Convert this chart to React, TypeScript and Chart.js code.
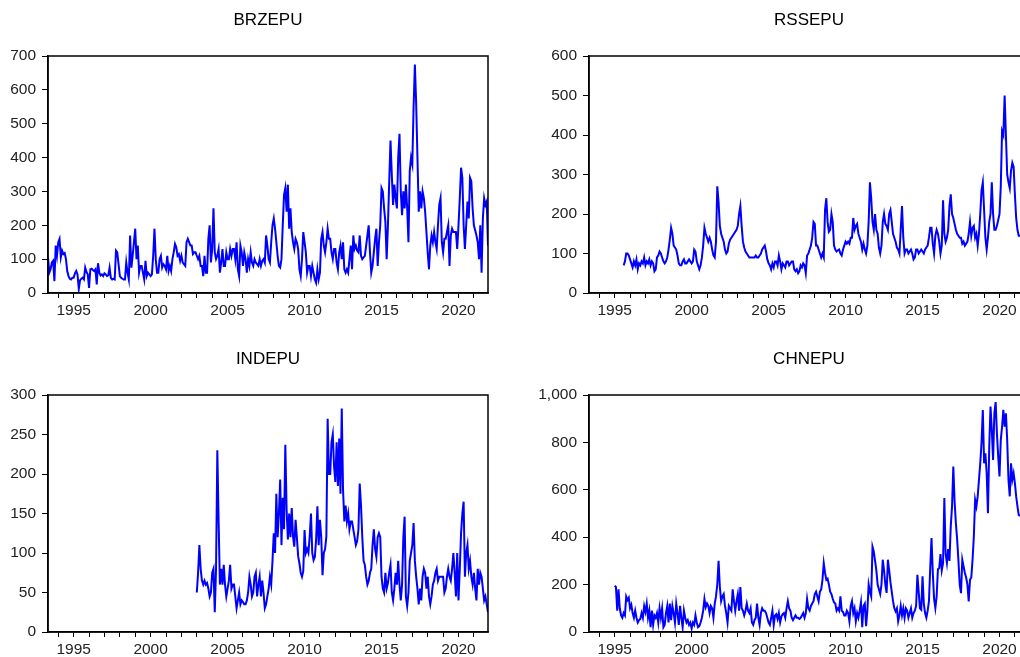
import React, { useEffect, useRef } from "react";
import { Chart, registerables } from "chart.js";

Chart.register(...registerables);

// Shared monthly time axis: May 1993 through December 2021
const AXIS_START = 1993 + 4 / 12;
const AXIS_END = 2021 + 11 / 12;
const tickYears = [
  1994, 1995, 1996, 1997, 1998, 1999, 2000, 2001, 2002, 2003, 2004, 2005, 2006, 2007,
  2008, 2009, 2010, 2011, 2012, 2013, 2014, 2015, 2016, 2017, 2018, 2019, 2020, 2021,
];
const labelYears = [1995, 2000, 2005, 2010, 2015, 2020];

// Brazil EPU, monthly from 1993-05
const brzStart = [1993, 5];
const brzepu = [
  105, 60, 70, 90, 95, 35, 140, 110,
  150, 160, 105, 125, 115, 118, 100, 65, 50, 42, 40, 45,
  45, 58, 65, 55, 12, 38, 42, 45, 40, 75, 62, 55,
  15, 70, 72, 68, 65, 70, 25, 88, 60, 52, 55, 50,
  58, 55, 50, 52, 75, 45, 40, 42, 40, 125, 120, 85,
  50, 45, 42, 40, 40, 90, 60, 40, 170, 75, 110, 150,
  190, 100, 140, 60, 80, 80, 60, 40, 95, 50, 60, 55,
  50, 55, 110, 190, 100, 60, 60, 100, 110, 75, 85, 80,
  70, 110, 65, 80, 65, 100, 120, 145, 135, 110, 115, 95,
  110, 90, 85, 80, 150, 160, 150, 140, 140, 115, 120, 120,
  110, 100, 110, 80, 80, 50, 110, 60, 60, 160, 200, 90,
  130, 250, 120, 100, 110, 130, 60, 90, 130, 80, 80, 120,
  100, 100, 130, 110, 130, 130, 100, 150, 70, 50, 140, 120,
  80, 120, 100, 60, 100, 80, 120, 90, 80, 100, 90, 85,
  80, 100, 80, 95, 100, 90, 170, 140, 100, 90, 150, 200,
  220, 190, 150, 110, 80, 75, 100, 200, 290, 310, 240, 320,
  190, 250, 180, 150, 130, 160, 150, 130, 70, 50, 100, 180,
  150, 120, 60, 80, 80, 50, 80, 60, 40, 30, 70, 40,
  60, 160, 180, 140, 120, 150, 190, 160, 160, 120, 100, 130,
  130, 90, 70, 120, 140, 100, 150, 70, 60, 70, 60, 100,
  140, 70, 170, 130, 140, 125, 120, 170, 110, 100, 105, 110,
  140, 170, 200, 120, 60, 80, 120, 160, 190, 80, 150, 200,
  310, 300, 250, 210, 100, 200, 330, 450, 350, 260, 320, 280,
  250, 400, 470, 300, 230, 300, 250, 320, 250, 150, 360, 400,
  380, 550, 675, 560, 400, 240, 300, 250, 300, 280, 240, 180,
  120, 70, 140, 170, 150, 180, 150, 130, 200, 260, 280, 150,
  120, 160, 160, 180, 200, 80, 170, 190, 180, 180, 180, 130,
  200, 280, 370, 340, 200, 130, 200, 270, 220, 340, 330, 250,
  200, 185, 170, 150, 100, 200, 60, 220, 280, 260, 270, 140,
];

// Russia EPU, monthly from 1995-08
const rssStart = [1995, 8];
const rssepu = [
  70, 80, 100, 100, 95,
  85, 75, 65, 80, 70, 85, 60, 75, 70, 80, 75, 90,
  70, 80, 75, 85, 70, 80, 75, 55, 60, 90, 95, 105,
  100, 90, 80, 75, 80, 90, 110, 135, 165, 150, 120, 115,
  110, 95, 75, 70, 70, 80, 85, 75, 75, 80, 85, 80,
  75, 80, 110, 105, 80, 70, 60, 70, 90, 120, 165, 150,
  140, 130, 140, 130, 110, 95, 90, 130, 270, 230, 170, 150,
  140, 130, 110, 100, 105, 125, 135, 140, 145, 150, 155, 160,
  170, 200, 220, 170, 130, 115, 105, 100, 95, 90, 90, 90,
  90, 90, 95, 90, 90, 95, 100, 110, 115, 120, 105, 85,
  75, 70, 60, 75, 65, 80, 80, 70, 95, 80, 60, 75,
  70, 65, 80, 80, 70, 75, 80, 80, 60, 55, 60, 50,
  55, 70, 65, 75, 70, 50, 95, 100, 110, 120, 140, 180,
  175, 120, 120, 110, 100, 90, 100, 90, 210, 240, 180, 155,
  160, 200, 180, 120, 110, 105, 108, 110, 100, 95, 110, 120,
  130, 125, 130, 125, 140, 140, 190, 160, 170, 175, 150, 140,
  130, 110, 125, 110, 100, 120, 180, 280, 240, 180, 160, 200,
  160, 150, 115, 100, 120, 180, 200, 175, 170, 160, 200, 210,
  180, 150, 140, 130, 115, 110, 100, 160, 220, 140, 100, 110,
  110, 100, 105, 110, 100, 85, 90, 110, 110, 100, 105, 110,
  105, 100, 110, 115, 120, 140, 165, 165, 125, 100, 145, 160,
  150, 130, 100, 120, 235, 150, 130, 140, 160, 220, 250, 200,
  190, 175, 160, 150, 145, 140, 140, 125, 130, 120, 125, 130,
  150, 180, 145, 165, 170, 140, 150, 120, 150, 200, 260, 280,
  210, 140, 110, 140, 180, 200, 280, 200, 160, 160, 170, 185,
  200, 270, 410, 400, 500, 400, 300, 280, 265, 310, 330, 320,
  250, 190, 160, 145, 145,
];

// India EPU, monthly from 2003-01
const indStart = [2003, 1];
const indepu = [
  50, 75, 110, 80, 65, 60, 65, 60, 62, 55, 45, 50,
  75, 80, 25, 80, 230, 140, 60, 80, 60, 85, 60, 45,
  55, 65, 85, 55, 60, 60, 45, 30, 40, 50, 35, 40,
  38, 35, 35, 40, 50, 70, 60, 45, 50, 70, 75, 45,
  60, 70, 45, 65, 50, 30, 35, 45, 55, 70, 60, 90,
  125, 100, 175, 120, 150, 193, 110, 170, 130, 237, 155, 117,
  150, 120, 157, 121, 108, 142, 120, 96, 87, 75, 70, 77,
  129, 100, 105, 100, 121, 150, 100, 91, 95, 117, 159, 110,
  142, 120, 72, 100, 105, 121, 270, 200, 200, 240, 250, 210,
  190, 240, 185, 245, 175, 283, 180, 140, 160, 140, 150, 130,
  140, 140, 130, 120, 110, 115, 130, 188, 160, 120, 90, 85,
  70, 60, 65, 75, 80, 110, 130, 105, 95, 120, 125, 120,
  70, 55, 50, 75, 55, 62, 75, 85, 50, 40, 55, 75,
  60, 90, 60, 40, 60, 120, 146, 45, 33, 50, 90, 100,
  110, 138, 90, 70, 55, 35, 55, 40, 70, 80, 75, 55,
  70, 45, 35, 45, 60, 65, 75, 80, 65, 70, 70, 70,
  70, 50, 55, 70, 80, 70, 65, 80, 100, 75, 45, 100,
  40, 80, 125, 150, 165, 70, 100, 110, 80, 90, 70, 60,
  75, 55, 40, 80, 60, 75, 70, 55, 40, 45, 35, 25,
];

// China EPU, monthly from 1995-01
const chnStart = [1995, 1];
const chnepu = [
  195, 190, 90, 180, 100, 70, 60, 80, 70, 150, 135, 145,
  100, 115, 80, 60, 90, 60, 40, 50, 55, 80, 60, 110,
  85, 120, 60, 90, 20, 90, 30, 70, 60, 80, 40, 100,
  60, 100, 20, 30, 80, 110, 40, 120, 50, 110, 80, 40,
  120, 80, 30, 110, 60, 20, 90, 60, 40, 50, 30, 40,
  15, 40, 30, 70, 40, 20, 25, 40, 60, 90, 140, 105,
  120, 110, 80, 110, 100, 60, 120, 150, 200, 300, 190, 130,
  150, 160, 110, 80, 40, 110, 100, 90, 180, 130, 90, 130,
  160, 90, 190, 100, 90, 70, 90, 120, 90, 80, 100, 40,
  30, 50, 60, 120, 60, 30, 80, 100, 90, 90, 80, 60,
  40, 30, 60, 90, 30, 70, 75, 55, 80, 40, 65, 75,
  80, 60, 100, 130, 100, 90, 60, 50, 60, 70, 60, 60,
  55, 60, 70, 80, 60, 80, 140, 100, 90, 110, 120, 130,
  160, 170, 150, 130, 170, 180, 220, 290, 250, 220, 225, 200,
  170, 160, 140, 125, 120, 90, 100, 90, 150, 90, 85, 70,
  70, 90, 80, 45, 110, 130, 80, 100, 45, 80, 60, 90,
  125, 20, 110, 120, 25, 90, 200, 170, 150, 360, 340, 300,
  260, 200, 180, 160, 200, 305, 260, 200, 165, 305, 260, 210,
  170, 130, 100, 87, 100, 45, 70, 110, 70, 100, 60, 100,
  90, 60, 80, 100, 60, 80, 90, 110, 241, 170, 100, 94,
  235, 120, 80, 60, 90, 129, 270, 396, 250, 140, 101, 150,
  265, 270, 329, 260, 290, 565, 330, 291, 350, 300, 445, 530,
  698, 550, 459, 390, 300, 200, 164, 305, 277, 249, 230, 200,
  129, 220, 230, 305, 403, 558, 530, 572, 642, 712, 800, 937,
  712, 754, 670, 501, 782, 951, 853, 726, 923, 970, 838, 740,
  656, 810, 866, 937, 866, 923, 810, 642, 572, 712, 642, 670,
  628, 572, 530, 494, 490,
];

// Value-axis ticks per panel
const brzTicks = [0, 100, 200, 300, 400, 500, 600, 700];
const rssTicks = [0, 100, 200, 300, 400, 500, 600];
const indTicks = [0, 50, 100, 150, 200, 250, 300];
const chnTicks = [0, 200, 400, 600, 800, 1000];

type PanelSpec = {
  title: string;
  start: number[];
  values: number[];
  yTicks: number[];
  plotLeft: number;
  plotTop: number;
};

const PLOT_W = 440;
const PLOT_H = 237;
const PAD_LEFT = 64;
const PAD_TOP = 56;
const PAD_RIGHT = 10;
const PAD_BOTTOM = 40;

const FONT_FAMILY = '"Liberation Sans", Arial, Helvetica, sans-serif';
const LINE_BLUE = "#0000ff";
const TEXT_COLOR = "#222222";

const panels: PanelSpec[] = [
  { title: "BRZEPU", start: brzStart, values: brzepu, yTicks: brzTicks, plotLeft: 48, plotTop: 56 },
  { title: "RSSEPU", start: rssStart, values: rssepu, yTicks: rssTicks, plotLeft: 589, plotTop: 56 },
  { title: "INDEPU", start: indStart, values: indepu, yTicks: indTicks, plotLeft: 48, plotTop: 395 },
  { title: "CHNEPU", start: chnStart, values: chnepu, yTicks: chnTicks, plotLeft: 589, plotTop: 395 },
];

function toPoints(start: number[], values: number[]) {
  return values.map((v, i) => ({ x: start[0] + (start[1] - 1 + i) / 12, y: v }));
}

const framePlugin = {
  id: "frameAndTitle",
  afterDraw(chart: any, _args: any, opts: any) {
    const { ctx, chartArea } = chart;
    const { left, top, right, bottom } = chartArea;
    ctx.save();
    ctx.strokeStyle = "#000";
    ctx.lineWidth = 1.5;
    ctx.strokeRect(left, top, right - left, bottom - top);
    ctx.fillStyle = "#000";
    ctx.font = `17px ${FONT_FAMILY}`;
    ctx.textAlign = "center";
    ctx.textBaseline = "middle";
    ctx.fillText(opts.text, (left + right) / 2, top - 36);
    ctx.restore();
  },
};

function Panel({ spec }: { spec: PanelSpec }) {
  const ref = useRef<HTMLCanvasElement | null>(null);
  const width = PAD_LEFT + PLOT_W + PAD_RIGHT;
  const height = PAD_TOP + PLOT_H + PAD_BOTTOM;

  useEffect(() => {
    if (!ref.current) return;
    const yMax = spec.yTicks[spec.yTicks.length - 1];
    const chart = new Chart(ref.current, {
      type: "line",
      data: {
        datasets: [
          {
            data: toPoints(spec.start, spec.values),
            borderColor: LINE_BLUE,
            borderWidth: 2,
            pointRadius: 0,
            tension: 0,
            fill: false,
          },
        ],
      },
      options: {
        animation: false,
        responsive: false,
        events: [],
        layout: { padding: { left: 0, top: PAD_TOP, right: PAD_RIGHT, bottom: 0 } },
        plugins: {
          legend: { display: false },
          tooltip: { enabled: false },
          title: { display: false },
          frameAndTitle: { text: spec.title },
        } as any,
        scales: {
          x: {
            type: "linear",
            min: AXIS_START,
            max: AXIS_END,
            afterBuildTicks: (s: any) => {
              s.ticks = tickYears.map((v) => ({ value: v }));
            },
            afterFit: (s: any) => {
              s.height = PAD_BOTTOM;
            },
            ticks: {
              autoSkip: false,
              maxRotation: 0,
              padding: 3,
              color: TEXT_COLOR,
              font: { family: FONT_FAMILY, size: 15.5 },
              callback: (v: any) => (labelYears.includes(Number(v)) ? String(v) : ""),
            },
            grid: { drawOnChartArea: false, drawTicks: true, tickLength: 5, color: "#000", lineWidth: 1 },
            border: { display: true, color: "#000", width: 1.5 },
          },
          y: {
            type: "linear",
            min: 0,
            max: yMax,
            afterBuildTicks: (s: any) => {
              s.ticks = spec.yTicks.map((v) => ({ value: v }));
            },
            afterFit: (s: any) => {
              s.width = PAD_LEFT;
            },
            ticks: {
              padding: 6,
              color: TEXT_COLOR,
              font: { family: FONT_FAMILY, size: 15.5 },
              callback: (v: any) => Number(v).toLocaleString("en-US"),
            },
            grid: { drawOnChartArea: false, drawTicks: true, tickLength: 6, color: "#000", lineWidth: 1 },
            border: { display: true, color: "#000", width: 1.5 },
          },
        },
      },
      plugins: [framePlugin],
    } as any);
    return () => chart.destroy();
  }, [spec]);

  return (
    <canvas
      ref={ref}
      width={width}
      height={height}
      style={{
        position: "absolute",
        left: spec.plotLeft - PAD_LEFT,
        top: spec.plotTop - PAD_TOP,
        width,
        height,
      }}
    />
  );
}

export default function App() {
  return (
    <div
      style={{
        position: "fixed",
        left: 0,
        top: 0,
        width: 1020,
        height: 657,
        overflow: "hidden",
        background: "#ffffff",
      }}
    >
      {panels.map((p) => (
        <Panel key={p.title} spec={p} />
      ))}
    </div>
  );
}
